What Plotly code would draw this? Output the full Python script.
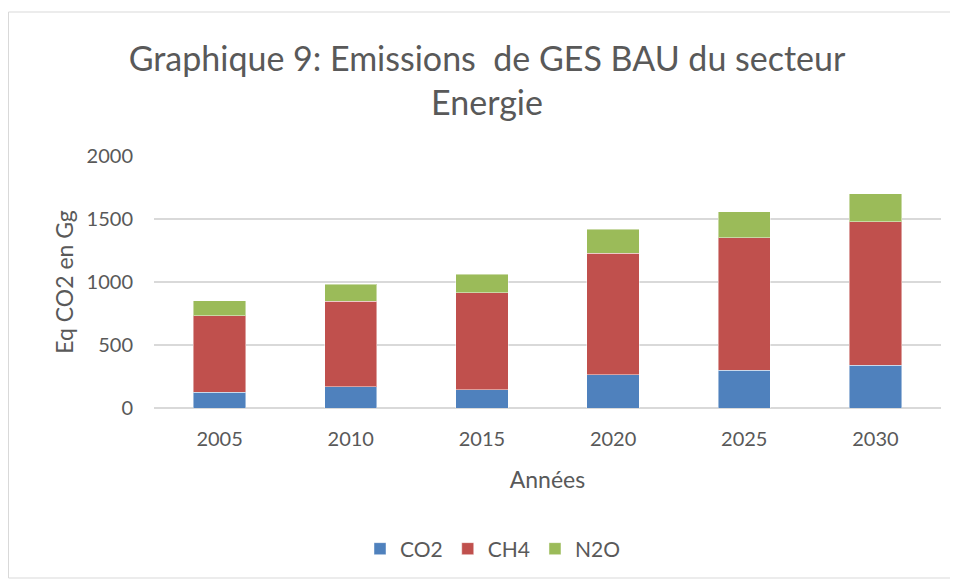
import plotly.graph_objects as go

years = ["2005", "2010", "2015", "2020", "2025", "2030"]
co2 = [127, 167, 146, 262, 299, 339]
ch4 = [607, 680, 767, 966, 1054, 1141]
n2o = [119, 135, 148, 191, 203, 222]

colors = {"CO2": "#4F81BD", "CH4": "#C0504D", "N2O": "#9BBB59"}
font_family = "Lato, 'Open Sans', sans-serif"
txt = "#595959"

# page body has an 8px margin; layout margins compensate
L, R, T, B = 146, 25, 148, 181
PW = 958 - L - R
PH = 581 - T - B

fig = go.Figure()
for name, vals in [("CO2", co2), ("CH4", ch4), ("N2O", n2o)]:
    fig.add_trace(go.Bar(
        x=years, y=vals, name=name,
        marker=dict(color=colors[name], line=dict(color="rgba(255,255,255,0.45)", width=1)),
    ))

fig.update_layout(
    barmode="stack",
    bargap=0.6,
    width=958, height=581,
    margin=dict(l=L, r=R, t=T, b=B),
    paper_bgcolor="white", plot_bgcolor="white",
    font=dict(family=font_family, color=txt, size=20),
    title=dict(
        text="Graphique 9: Emissions  de GES BAU du secteur<br>Energie",
        x=0.5, xanchor="center", y=1 - 63 / 581, yanchor="middle",
        font=dict(size=34, color=txt, family=font_family),
    ),
    xaxis=dict(
        title=dict(text="Années", standoff=22, font=dict(size=23)),
        showgrid=False, showline=False, ticks="",
        tickfont=dict(size=20), ticklabelstandoff=17,
    ),
    yaxis=dict(
        title=dict(text="Eq CO2 en Gg", standoff=6, font=dict(size=23)),
        range=[0, 2000], dtick=500, showgrid=True, gridcolor="#D9D9D9", gridwidth=1.5,
        zeroline=True, zerolinecolor="#D9D9D9", zerolinewidth=1.5,
        tickfont=dict(size=20), ticks="", ticklen=0, ticklabelstandoff=20,
    ),
    legend=dict(
        orientation="h", x=(485 - L) / PW, xanchor="center", y=(PH - (541 - T)) / PH, yanchor="middle",
        font=dict(size=21), traceorder="normal",
    ),
    shapes=[dict(
        type="rect", xref="paper", yref="paper",
        x0=(0.5 - L) / PW, x1=(1000 - L) / PW,
        y0=(PH - (570 - T)) / PH, y1=(PH - (4 - T)) / PH,
        line=dict(color="#D9D9D9", width=1), fillcolor="rgba(0,0,0,0)", layer="below",
    )],
)

fig.write_html("out.html")
